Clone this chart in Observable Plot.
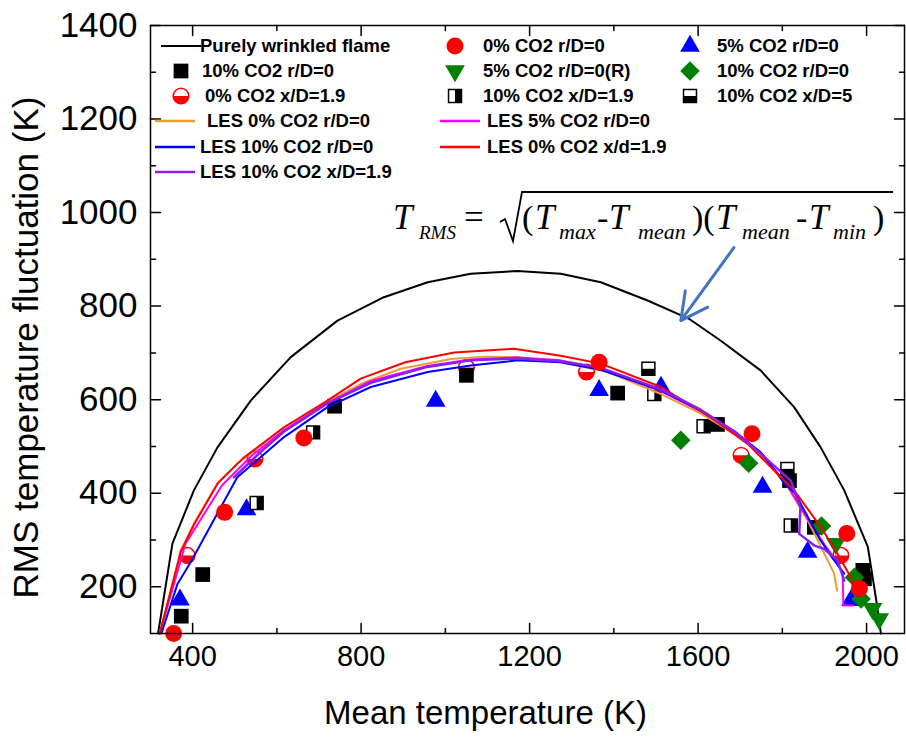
<!DOCTYPE html>
<html>
<head>
<meta charset="utf-8">
<script src="https://cdn.jsdelivr.net/npm/d3@7"></script>
<script src="https://cdn.jsdelivr.net/npm/@observablehq/plot@0.6"></script>
<style>
  html, body { margin: 0; padding: 0; background: #fff; }
  #chart { width: 906px; height: 744px; }
</style>
</head>
<body>
<div id="chart"></div>
<script>
// ---- data: [mean temperature (K), RMS temperature fluctuation (K)] ----
const wrinkledFlame = [[318,100],[352,292],[403,406],[459,498],[538,598],[633,691],[744,769],[854,819],[958,851],[1060,869],[1171,875],[1274,869],[1369,851],[1480,812],[1580,772],[1654,726],[1749,662],[1828,584],[1891,498],[1947,406],[2003,285],[2023,171],[2034,100]];

const co2_0_r0    = [[355,100],[476,359],[664,518],[1365,680],[1728,527],[1953,314],[1983,196]];
const co2_5_r0    = [[370,172],[528,365],[977,597],[1365,620],[1512,627],[1753,413],[1860,274],[1963,171]];
const co2_10_r0   = [[373,137],[424,226],[737,586],[1050,652],[1409,614],[1646,547],[1817,427],[1876,327],[1991,235],[1995,217]];
const co2_5_r0R   = [[1927,292],[2014,153],[2030,131]];
const co2_10_r0D  = [[1559,513],[1720,464],[1893,330],[1971,220],[1987,174]];
const co2_0_x19   = [[387,267],[548,473],[1050,669],[1335,659],[1702,481],[1939,267]];
const co2_10_x19  = [[552,379],[686,530],[1496,612],[1613,543],[1820,331]];
const co2_10_x5   = [[1482,666],[1812,452]];

const les_0_r0   = [[322,100],[372,278],[403,335],[459,420],[506,463],[577,513],[617,541],[720,595],[807,637],[894,666],[1013,687],[1092,692],[1171,691],[1274,680],[1385,659],[1512,612],[1607,570],[1686,527],[1749,484],[1813,413],[1860,342],[1892,285],[1923,228],[1930,192]];
const les_5_r0   = [[322,100],[383,292],[470,417],[540,480],[617,535],[720,593],[823,640],[957,672],[1060,686],[1171,690],[1274,684],[1369,666],[1512,618],[1607,575],[1686,530],[1749,487],[1813,415],[1860,345],[1900,290],[1923,262],[1943,228],[1945,160],[1968,160]];
const les_10_r0  = [[326,100],[364,206],[395,252],[506,434],[617,520],[720,584],[823,627],[958,659],[1060,673],[1171,684],[1274,680],[1369,664],[1512,620],[1607,576],[1686,533],[1749,487],[1790,440],[1805,420],[1830,400],[1860,350],[1890,300],[1920,260],[1947,228]];
const les_0_x19  = [[322,100],[372,275],[404,334],[460,422],[520,475],[617,541],[720,598],[799,645],[905,680],[1021,701],[1163,709],[1274,694],[1369,677],[1512,627],[1630,562],[1717,506],[1828,406],[1892,327],[1931,270],[1963,220],[1971,185]];
const les_10_x19 = [[498,434],[560,487],[617,532],[720,592],[823,636],[957,670],[1060,684],[1171,688],[1274,682],[1369,668],[1512,622],[1607,578],[1686,532],[1749,484],[1820,427],[1843,370],[1840,313],[1876,288],[1899,281],[1931,256],[1947,213]];

// axis ticks
const xMajor = [400, 800, 1200, 1600, 2000];
const xMinor = [600, 1000, 1400, 1800];
const yMajor = [200, 400, 600, 800, 1000, 1200, 1400];
const yMinor = [300, 500, 700, 900, 1100, 1300];

// formula pointer (tail -> head)
const pointer = [{x1: 1685, y1: 925, x2: 1559, y2: 769}];

// ---- symbols ----
const halfDiscBottom = {draw(ctx, size) { const r = Math.sqrt(size / Math.PI); ctx.moveTo(r, 0); ctx.arc(0, 0, r, 0, Math.PI); ctx.closePath(); }};
const halfSquareRight = {draw(ctx, size) { const s = Math.sqrt(size) / 2; ctx.rect(0, -s, s, 2 * s); }};
const halfSquareBottom = {draw(ctx, size) { const s = Math.sqrt(size) / 2; ctx.rect(-s, 0, 2 * s, s); }};
const tickShape = {draw(ctx, l) { ctx.moveTo(0, 0); ctx.lineTo(0, -l); }};

// each marker is a stack of layers (drawn in order)
const markers = {
  r0:   [{symbol: "circle", r: 8.5, fill: "#ff0000"}],
  r5:   [{symbol: "triangle", r: 7.3, fill: "#0000ff"}],
  r10:  [{symbol: "square", r: 8.3, fill: "#000000"}],
  r5R:  [{symbol: "triangle", r: 7.3, fill: "#008000", rotate: 180}],
  r10D: [{symbol: "square", r: 7.8, fill: "#008000", rotate: 45}],
  x0:   [{symbol: "circle", r: 7.8, fill: "#ffffff", stroke: "#ff0000", strokeWidth: 1.5}, {symbol: halfDiscBottom, r: 7.8, fill: "#ff0000"}],
  x10:  [{symbol: "square", r: 7.3, fill: "#ffffff", stroke: "#000000", strokeWidth: 1.5}, {symbol: halfSquareRight, r: 7.3, fill: "#000000"}],
  x10b: [{symbol: "square", r: 7.3, fill: "#ffffff", stroke: "#000000", strokeWidth: 1.5}, {symbol: halfSquareBottom, r: 7.3, fill: "#000000"}]
};

function dots(data, key) {
  return markers[key].map(l => Plot.dot(data, {x: d => d[0], y: d => d[1], symbol: l.symbol, r: l.r, fill: l.fill,
    stroke: l.stroke || "none", strokeWidth: l.strokeWidth || 0, rotate: l.rotate || 0}));
}
function les(data, color, w = 2) {
  return Plot.line(data, {x: d => d[0], y: d => d[1], stroke: color, strokeWidth: w, strokeLinejoin: "round"});
}
function ticks(values, axis, at, rotate, len) {
  return Plot.vector(values, axis === "x"
    ? {x: d => d, y: at, rotate, length: len, anchor: "start", shape: tickShape, stroke: "black", strokeWidth: 1.5}
    : {x: at, y: d => d, rotate, length: len, anchor: "start", shape: tickShape, stroke: "black", strokeWidth: 1.5});
}

const colors = {orange: "#e8a032", magenta: "#ff00ff", blue: "#0000ff", red: "#ff0000", purple: "#8b1ff0"};

const plot = Plot.plot({
  width: 906,
  height: 744,
  marginLeft: 150,
  marginRight: 2,
  marginTop: 25,
  marginBottom: 111,
  style: {fontFamily: "'Liberation Sans', Arial, sans-serif", background: "white", overflow: "visible"},
  x: {domain: [300, 2090]},
  y: {domain: [100, 1400]},
  marks: [
    Plot.line(wrinkledFlame, {x: d => d[0], y: d => d[1], stroke: "black", strokeWidth: 2}),
    ...dots(co2_5_r0, "r5"),
    ...dots(co2_0_x19, "x0"),
    ...dots(co2_10_r0, "r10"),
    ...dots(co2_10_x19, "x10"),
    ...dots(co2_10_x5, "x10b"),
    ...dots(co2_10_r0D, "r10D"),
    ...dots(co2_5_r0R, "r5R"),
    les(les_0_r0, colors.orange),
    les(les_5_r0, colors.magenta),
    les(les_10_r0, colors.blue),
    les(les_0_x19, colors.red),
    les(les_10_x19, colors.purple, 2.5),
    ...dots(co2_0_r0, "r0"),
    Plot.arrow(pointer, {x1: "x1", y1: "y1", x2: "x2", y2: "y2", stroke: "#4472c4", strokeWidth: 3, headLength: 16, headAngle: 55}),
    Plot.frame({stroke: "black", strokeWidth: 1.5}),
    ticks(xMajor, "x", 100, 0, 10), ticks(xMinor, "x", 100, 0, 5),
    ticks(xMajor, "x", 1400, 180, 10), ticks(xMinor, "x", 1400, 180, 5),
    ticks(yMajor, "y", 300, 90, 10), ticks(yMinor, "y", 300, 90, 5),
    ticks(yMajor, "y", 2090, 270, 10), ticks(yMinor, "y", 2090, 270, 5),
    Plot.axisX(xMajor, {tickSize: 0, tickPadding: 12, fontSize: 29, label: null, tickFormat: d => String(d)}),
    Plot.axisY(yMajor, {tickSize: 0, tickPadding: 13, fontSize: 35, label: null, tickFormat: d => String(d)}),
    Plot.text(["Mean temperature (K)"], {frameAnchor: "bottom", dx: -42, dy: 90, fontSize: 33}),
    Plot.text(["RMS temperature fluctuation (K)"], {frameAnchor: "left", textAnchor: "middle", rotate: -90, dx: -124, dy: 18, fontSize: 35})
  ]
});

document.getElementById("chart").appendChild(plot);

// ---- legend (inside the frame, top) ----
const svg = d3.select(plot);
const legend = [
  {x: 181, tx: 200, y: 46, line: "black", label: "Purely wrinkled flame"},
  {x: 455, tx: 483, y: 46, marker: "r0", label: "0% CO2 r/D=0"},
  {x: 690, tx: 717, y: 46, marker: "r5", label: "5% CO2 r/D=0"},
  {x: 181, tx: 202, y: 71, marker: "r10", label: "10% CO2 r/D=0"},
  {x: 455, tx: 483, y: 71, marker: "r5R", label: "5% CO2 r/D=0(R)"},
  {x: 690, tx: 717, y: 71, marker: "r10D", label: "10% CO2 r/D=0"},
  {x: 181, tx: 205, y: 96, marker: "x0", label: "0% CO2 x/D=1.9"},
  {x: 455, tx: 483, y: 96, marker: "x10", label: "10% CO2 x/D=1.9"},
  {x: 690, tx: 717, y: 96, marker: "x10b", label: "10% CO2 x/D=5"},
  {x: 175, tx: 207, y: 121, line: colors.orange, label: "LES 0% CO2 r/D=0"},
  {x: 460, tx: 487, y: 121, line: colors.magenta, label: "LES 5% CO2 r/D=0"},
  {x: 175, tx: 200, y: 147, line: colors.blue, label: "LES 10% CO2 r/D=0"},
  {x: 460, tx: 487, y: 147, line: colors.red, label: "LES 0% CO2 x/d=1.9"},
  {x: 175, tx: 200, y: 172, line: colors.purple, label: "LES 10% CO2 x/D=1.9"}
];
const lg = svg.append("g").attr("font-family", "'Liberation Sans', Arial, sans-serif").attr("text-anchor", "start");
for (const e of legend) {
  if (e.line) {
    lg.append("line").attr("x1", e.x - 20).attr("x2", e.x + 20).attr("y1", e.y).attr("y2", e.y)
      .attr("stroke", e.line).attr("stroke-width", e.line === "black" ? 2 : 2.5);
  } else {
    for (const l of markers[e.marker]) {
      const type = typeof l.symbol === "string" ? {circle: d3.symbolCircle, triangle: d3.symbolTriangle, square: d3.symbolSquare}[l.symbol] : l.symbol;
      lg.append("path").attr("d", d3.symbol(type, Math.PI * l.r * l.r)())
        .attr("transform", `translate(${e.x},${e.y}) rotate(${l.rotate || 0})`)
        .attr("fill", l.fill).attr("stroke", l.stroke || "none").attr("stroke-width", l.strokeWidth || 0);
    }
  }
  lg.append("text").attr("x", e.tx).attr("y", e.y).attr("dy", "0.35em")
    .attr("font-size", 18.5).attr("font-weight", "bold").text(e.label);
}

// ---- formula annotation ----
const fg = svg.append("g").attr("font-family", "'Liberation Serif', 'Times New Roman', serif")
  .attr("fill", "black").attr("text-anchor", "start");
const pieces = [
  {x: 393, y: 229, s: 35, t: "T", it: true},
  {x: 419, y: 239, s: 19, t: "RMS", it: true},
  {x: 464, y: 229, s: 35, t: "="},
  {x: 522, y: 229, s: 34, t: "("},
  {x: 535, y: 229, s: 35, t: "T", it: true},
  {x: 559, y: 239, s: 22, t: "max", it: true},
  {x: 597, y: 229, s: 34, t: "-"},
  {x: 609, y: 229, s: 35, t: "T", it: true},
  {x: 638, y: 239, s: 22, t: "mean", it: true},
  {x: 692, y: 229, s: 34, t: ")("},
  {x: 716, y: 229, s: 35, t: "T", it: true},
  {x: 742, y: 239, s: 22, t: "mean", it: true},
  {x: 796, y: 229, s: 34, t: "-"},
  {x: 809, y: 229, s: 35, t: "T", it: true},
  {x: 833, y: 239, s: 22, t: "min", it: true},
  {x: 873, y: 229, s: 34, t: ")"}
];
for (const p of pieces) {
  fg.append("text").attr("x", p.x).attr("y", p.y).attr("font-size", p.s)
    .attr("font-style", p.it ? "italic" : "normal").text(p.t);
}
fg.append("path").attr("d", "M500,222 L505,219 L513,241 L522,192 L893,192")
  .attr("fill", "none").attr("stroke", "black").attr("stroke-width", 1.8).attr("stroke-linejoin", "miter");
</script>
</body>
</html>
